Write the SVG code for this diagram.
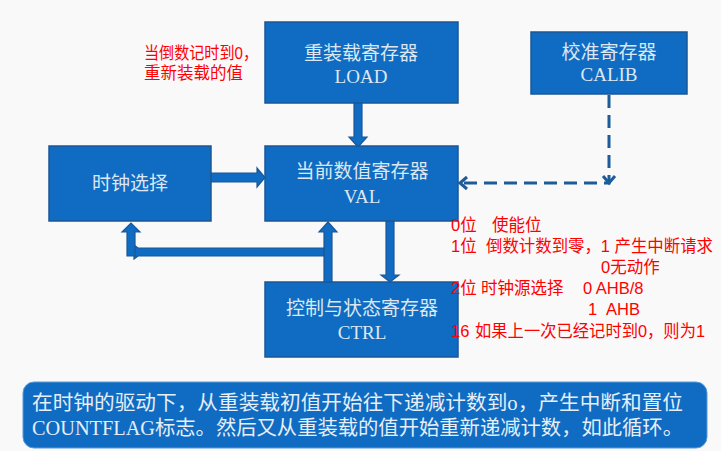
<svg xmlns="http://www.w3.org/2000/svg" width="721" height="451" viewBox="0 0 721 451">
<style>
.box{fill:#0f6cc2;stroke:#1b5796;stroke-width:1.5}
.lbl{font-family:"Liberation Serif","Noto Sans CJK SC",serif;font-size:19px;fill:#dde7f2;text-anchor:middle}
.red{font-family:"Liberation Sans","Noto Sans CJK SC",sans-serif;font-size:16.5px;fill:#ff0000}
.blk{fill:#0f6cc2;stroke:#1b5796;stroke-width:1.2}
.dash{fill:none;stroke:#1d5c99;stroke-width:3;stroke-dasharray:13 7}
.head{fill:none;stroke:#1d5c99;stroke-width:3}
.bot{font-family:"Liberation Serif","Noto Sans CJK SC",serif;font-size:20px;fill:#e6eef7}
</style>
<rect x="0" y="0" width="721" height="451" fill="#f9f9fa"/>
<g id="connectors">
<polygon class="blk" points="354,103 362,103 362,137 367,137 358,147 349,137 354,137"/>
<polygon class="blk" points="211,173 257,173 257,168 265,177.5 257,187 257,182 211,182"/>
<polygon class="blk" points="386,221 394,221 394,275 399,275 390,282 381,275 386,275"/>
<polygon class="blk" points="324,282 324,232 319,232 328,222 337,232 332,232 332,282"/>
<polygon class="blk" points="324,248 324,256 138,256 134,259 134,245 138,248"/>
<polygon class="blk" points="127,256 127,232 122,232 131,223 140,232 135,232 135,256"/>
<path class="dash" d="M609,95 V183 H462"/>
<path class="head" d="M603,176 L609,183 L615,176"/>
<path class="head" d="M467,177 L460,183 L467,189"/>
</g>
<g id="load">
<rect class="box" x="265" y="22" width="193" height="81"/>
<text class="lbl" x="361" y="60">重装载寄存器</text>
<text class="lbl" x="361" y="83">LOAD</text>
</g>
<g id="calib">
<rect class="box" x="531" y="32" width="156" height="62"/>
<text class="lbl" x="609" y="59">校准寄存器</text>
<text class="lbl" x="609" y="81">CALIB</text>
</g>
<g id="clock">
<rect class="box" x="49" y="146" width="162" height="75"/>
<text class="lbl" x="130" y="190">时钟选择</text>
</g>
<g id="val">
<rect class="box" x="265" y="146" width="193" height="75"/>
<text class="lbl" x="362" y="178">当前数值寄存器</text>
<text class="lbl" x="362" y="203">VAL</text>
</g>
<g id="ctrl">
<rect class="box" x="265" y="282" width="193" height="75"/>
<text class="lbl" x="362" y="315">控制与状态寄存器</text>
<text class="lbl" x="362" y="339">CTRL</text>
</g>
<g id="note-load">
<text class="red" x="144" y="59" textLength="114" lengthAdjust="spacingAndGlyphs">当倒数记时到0，</text>
<text class="red" x="144" y="79">重新装载的值</text>
</g>
<g id="note-ctrl">
<text class="red" x="451" y="231">0位</text>
<text class="red" x="492" y="231">使能位</text>
<text class="red" x="451" y="252">1位</text>
<text class="red" x="486" y="252" textLength="227" lengthAdjust="spacingAndGlyphs">倒数计数到零，1 产生中断请求</text>
<text class="red" x="601" y="273">0无动作</text>
<text class="red" x="451" y="294">2位</text>
<text class="red" x="481" y="294">时钟源选择</text>
<text class="red" x="583" y="294">0 AHB/8</text>
<text class="red" x="588" y="315">1</text>
<text class="red" x="606" y="315">AHB</text>
<text class="red" x="451" y="337">16</text>
<text class="red" x="475" y="337" textLength="230" lengthAdjust="spacingAndGlyphs">如果上一次已经记时到0，则为1</text>
</g>
<g id="summary">
<rect x="23" y="382" width="684" height="66" rx="11" ry="11" fill="#0f6cc2" stroke="#5b9ad6" stroke-width="1"/>
<text class="bot" x="32" y="410" textLength="651" lengthAdjust="spacingAndGlyphs">在时钟的驱动下，从重装载初值开始往下递减计数到o，产生中断和置位</text>
<text class="bot" x="32" y="435" textLength="651" lengthAdjust="spacingAndGlyphs">COUNTFLAG标志。然后又从重装载的值开始重新递减计数，如此循环。</text>
</g>
</svg>
